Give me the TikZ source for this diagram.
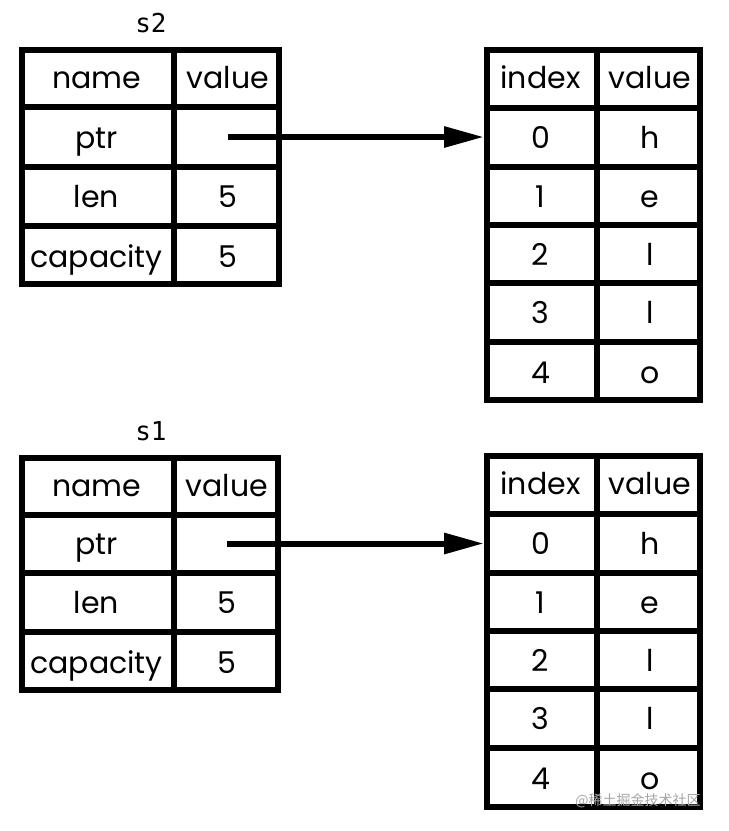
\documentclass[tikz,border=0pt]{standalone}
\usepackage{fontspec}
\setmainfont{Poppins}
\newfontfamily\labelfont{DejaVu Sans Mono}
\newfontfamily\cjkfont{Noto Sans CJK SC}
\usetikzlibrary{arrows.meta}
\begin{document}
\begin{tikzpicture}[x=1pt,y=-1pt,
  grid/.style={line width=6pt, line cap=rect},
  cell/.style={inner sep=0pt, text height=22pt, text depth=0pt, font=\fontsize{30}{31}\selectfont},
  varlabel/.style={inner sep=0pt, font=\labelfont\fontsize{26}{28}\selectfont},
  ptrarrow/.style={line width=6pt, -{Triangle[length=40pt,width=20pt]}}]
\useasboundingbox[fill=white] (0,0) rectangle (729,831);

% ---------- s2 table ----------
\node[varlabel] (s2lbl) at (151,23) {s2};
\draw[grid] (22,50) rectangle (279,284);
\draw[grid] (174,50) -- (174,284);
\foreach \yy in {107,167,226} \draw[grid] (22,\yy) -- (279,\yy);
\node[cell] (s2n0) at (96.5,77) {name};
\node[cell] (s2v0) at (228,77) {value};
\node[cell] (s2n1) at (96.5,137) {ptr};
\node[cell] (s2v1) at (228,137) {};
\node[cell] (s2n2) at (96.5,196.5) {len};
\node[cell] (s2v2) at (228,196.5) {5};
\node[cell] (s2n3) at (96.5,256.5) {capacity};
\node[cell] (s2v3) at (228,256.5) {5};

% ---------- heap table (top) ----------
\draw[grid] (487,50) rectangle (700,400);
\draw[grid] (597,50) -- (597,400);
\foreach \yy in {108,167,225,283,342} \draw[grid] (487,\yy) -- (700,\yy);
\coordinate (h2entry) at (484,137);
\node[cell] (h2i) at (540.5,77) {index};
\node[cell] (h2v) at (650,77) {value};
\node[cell] (h2i0) at (540.5,137) {0};
\node[cell] (h2v0) at (650,137) {h};
\node[cell] (h2i1) at (540.5,196) {1};
\node[cell] (h2v1) at (650,196) {e};
\node[cell] (h2i2) at (540.5,254.5) {2};
\node[cell] (h2v2) at (650,254.5) {l};
\node[cell] (h2i3) at (540.5,312.5) {3};
\node[cell] (h2v3) at (650,312.5) {l};
\node[cell] (h2i4) at (540.5,372.5) {4};
\node[cell] (h2v4) at (650,372.5) {o};

\draw[ptrarrow] (s2v1.center) -- (h2entry);

% ---------- s1 table ----------
\node[varlabel] (s1lbl) at (151,431) {s1};
\draw[grid] (22,458) rectangle (278,690);
\draw[grid] (174,458) -- (174,690);
\foreach \yy in {515,573,632} \draw[grid] (22,\yy) -- (278,\yy);
\node[cell] (s1n0) at (96.5,485) {name};
\node[cell] (s1v0) at (227,485) {value};
\node[cell] (s1n1) at (96.5,543.5) {ptr};
\node[cell] (s1v1) at (227,543.5) {};
\node[cell] (s1n2) at (96.5,602.3) {len};
\node[cell] (s1v2) at (227,602.3) {5};
\node[cell] (s1n3) at (96.5,662.3) {capacity};
\node[cell] (s1v3) at (227,662.3) {5};

% ---------- heap table (bottom) ----------
\draw[grid] (487,456) rectangle (700,807);
\draw[grid] (597,456) -- (597,807);
\foreach \yy in {514,573,631,689,748} \draw[grid] (487,\yy) -- (700,\yy);
\coordinate (h1entry) at (484,543.5);
\node[cell] (h1i) at (540.5,483.3) {index};
\node[cell] (h1v) at (650,483.3) {value};
\node[cell] (h1i0) at (540.5,543.5) {0};
\node[cell] (h1v0) at (650,543.5) {h};
\node[cell] (h1i1) at (540.5,602) {1};
\node[cell] (h1v1) at (650,602) {e};
\node[cell] (h1i2) at (540.5,660) {2};
\node[cell] (h1v2) at (650,660) {l};
\node[cell] (h1i3) at (540.5,718.3) {3};
\node[cell] (h1v3) at (650,718.3) {l};
\node[cell] (h1i4) at (540.5,778.3) {4};
\node[cell] (h1v4) at (650,778.3) {o};

\draw[ptrarrow] (s1v1.center) -- (h1entry);

% watermark
\node[inner sep=0pt, text=black!35, font=\cjkfont\fontsize{14}{15}\selectfont] (wm) at (638,801) {@稀土掘金技术社区};
\end{tikzpicture}
\end{document}
